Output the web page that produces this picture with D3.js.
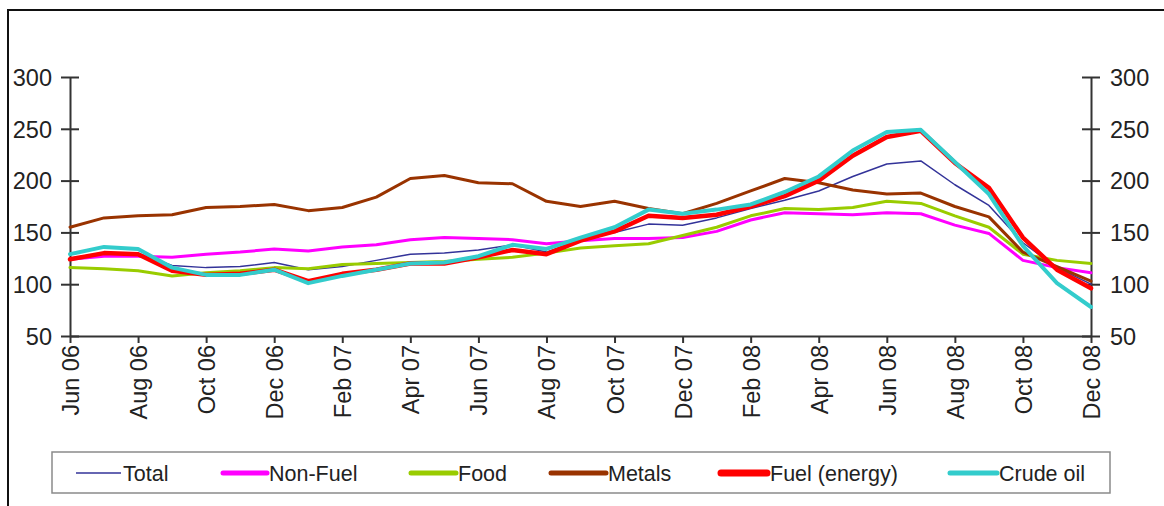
<!DOCTYPE html>
<html>
<head>
<meta charset="utf-8">
<script src="https://cdn.jsdelivr.net/npm/d3@7"></script>
<style>
  html, body { margin: 0; padding: 0; background: #fff; }
  svg { display: block; font-family: "Liberation Sans", Arial, sans-serif; }
</style>
</head>
<body>
<svg id="chart" width="1164" height="506"></svg>
<script>
// Monthly commodity price indices, Jun 2006 – Dec 2008
const months = ["Jun 06","Jul 06","Aug 06","Sep 06","Oct 06","Nov 06","Dec 06",
  "Jan 07","Feb 07","Mar 07","Apr 07","May 07","Jun 07","Jul 07","Aug 07","Sep 07",
  "Oct 07","Nov 07","Dec 07","Jan 08","Feb 08","Mar 08","Apr 08","May 08","Jun 08",
  "Jul 08","Aug 08","Sep 08","Oct 08","Nov 08","Dec 08"];
const monthLabels = ["Jun 06","Aug 06","Oct 06","Dec 06","Feb 07","Apr 07","Jun 07","Aug 07",
  "Oct 07","Dec 07","Feb 08","Apr 08","Jun 08","Aug 08","Oct 08","Dec 08"];
const yTicks = [50, 100, 150, 200, 250, 300];

const seriesNames = ["Total","Non-Fuel","Food","Metals","Fuel (energy)","Crude oil"];
const total   = [125,130,130,118,116,117,121,114,117,123,129,130,133,138,131,143,150,158,157,164,173,181,190,204,216,219,196,176,140,116,100];
const nonFuel = [124,127,127,126,129,131,134,132,136,138,143,145,144,143,139,142,144,144,145,151,162,169,168,167,169,168,157,149,123,116,111];
const food    = [116,115,113,108,111,113,116,115,119,120,121,122,124,126,130,135,137,139,147,155,166,173,172,174,180,178,166,155,129,123,120];
const metals  = [155,164,166,167,174,175,177,171,174,184,202,205,198,197,180,175,180,173,168,178,190,202,198,191,187,188,175,165,131,117,103];
const fuel    = [124,130,129,113,109,110,114,103,110,114,120,120,126,133,129,142,151,166,164,167,175,185,200,224,242,248,217,193,145,114,96];
const crude   = [129,136,134,116,109,109,114,101,108,114,120,121,127,138,134,145,155,172,168,172,177,189,204,229,247,249,218,187,137,101,78];

// Styling per series
const styles = [
  { color: "#333399", width: 1.5, legendWidth: 1.5 },
  { color: "#ff00ff", width: 3,   legendWidth: 5 },
  { color: "#99cc00", width: 3,   legendWidth: 5 },
  { color: "#993300", width: 3,   legendWidth: 5 },
  { color: "#ff0000", width: 4.5, legendWidth: 7 },
  { color: "#33cccc", width: 4,   legendWidth: 5 }
];
const seriesValues = [total, nonFuel, food, metals, fuel, crude];

const svg = d3.select("#chart");

// Outer frame (top and left edges)
svg.append("path")
  .attr("d", "M8,506V10H1164")
  .attr("fill", "none").attr("stroke", "#111").attr("stroke-width", 2);

const plot = { left: 70, right: 1091, top: 77, bottom: 336 };
const x = d3.scalePoint().domain(months).range([plot.left, plot.right]);
const y = d3.scaleLinear().domain([50, 300]).range([plot.bottom, plot.top]);

const axisColor = "#333";
const textColor = "#222";

function styleYAxis(g, side) {
  g.select(".domain").attr("stroke", axisColor).attr("stroke-width", 2);
  g.selectAll(".tick line").attr("stroke", axisColor).attr("stroke-width", 2)
    .attr("x1", -9).attr("x2", 9);
  g.selectAll(".tick text").attr("fill", textColor)
    .style("font-size", "23.5px")
    .attr("x", side === "left" ? -18 : 19)
    .attr("dy", "0.35em");
}

// Left axis
svg.append("g")
  .attr("transform", `translate(${plot.left},0)`)
  .call(d3.axisLeft(y).tickValues(yTicks).tickSize(9).tickSizeOuter(0))
  .call(g => styleYAxis(g, "left"));

// Right axis
svg.append("g")
  .attr("transform", `translate(${plot.right},0)`)
  .call(d3.axisRight(y).tickValues(yTicks).tickSize(9).tickSizeOuter(0))
  .call(g => styleYAxis(g, "right"));

// Bottom axis with rotated month labels
svg.append("g")
  .attr("transform", `translate(0,${plot.bottom})`)
  .call(d3.axisBottom(x).tickValues(monthLabels).tickSize(7).tickSizeOuter(0))
  .call(g => {
    g.select(".domain").attr("stroke", axisColor).attr("stroke-width", 2);
    g.selectAll(".tick line").attr("stroke", axisColor).attr("stroke-width", 2);
    g.selectAll(".tick text")
      .attr("fill", textColor)
      .style("font-size", "23.5px")
      .style("text-anchor", "end")
      .attr("transform", "rotate(-90)")
      .attr("x", -9).attr("y", 0).attr("dy", "0.36em");
  });

// Series lines
const line = d3.line().x((d, i) => x(months[i])).y(d => y(d)).curve(d3.curveLinear);
svg.append("g").selectAll("path")
  .data(seriesValues)
  .join("path")
  .attr("d", d => line(d))
  .attr("fill", "none")
  .attr("stroke", (d, i) => styles[i].color)
  .attr("stroke-width", (d, i) => styles[i].width)
  .attr("stroke-linejoin", "round")
  .attr("stroke-linecap", "round");

// Legend
const legendLayout = [
  { x1: 76,  x2: 121, tx: 123 },
  { x1: 223, x2: 267, tx: 269 },
  { x1: 411, x2: 456, tx: 458 },
  { x1: 551, x2: 606, tx: 608 },
  { x1: 721, x2: 767, tx: 770 },
  { x1: 950, x2: 997, tx: 999 }
];
const legend = svg.append("g");
legend.append("rect")
  .attr("x", 52).attr("y", 452).attr("width", 1058).attr("height", 41)
  .attr("fill", "#fff").attr("stroke", "#8a8a8a").attr("stroke-width", 1.5);
const items = legend.selectAll("g.item")
  .data(seriesNames)
  .join("g").attr("class", "item");
items.append("line")
  .attr("x1", (d, i) => legendLayout[i].x1)
  .attr("x2", (d, i) => legendLayout[i].x2)
  .attr("y1", 473).attr("y2", 473)
  .attr("stroke", (d, i) => styles[i].color)
  .attr("stroke-width", (d, i) => styles[i].legendWidth)
  .attr("stroke-linecap", (d, i) => i === 0 ? "butt" : "round");
items.append("text")
  .attr("x", (d, i) => legendLayout[i].tx)
  .attr("y", 473).attr("dy", "0.35em")
  .attr("fill", textColor)
  .style("font-size", "21.5px")
  .text(d => d);
</script>
</body>
</html>
